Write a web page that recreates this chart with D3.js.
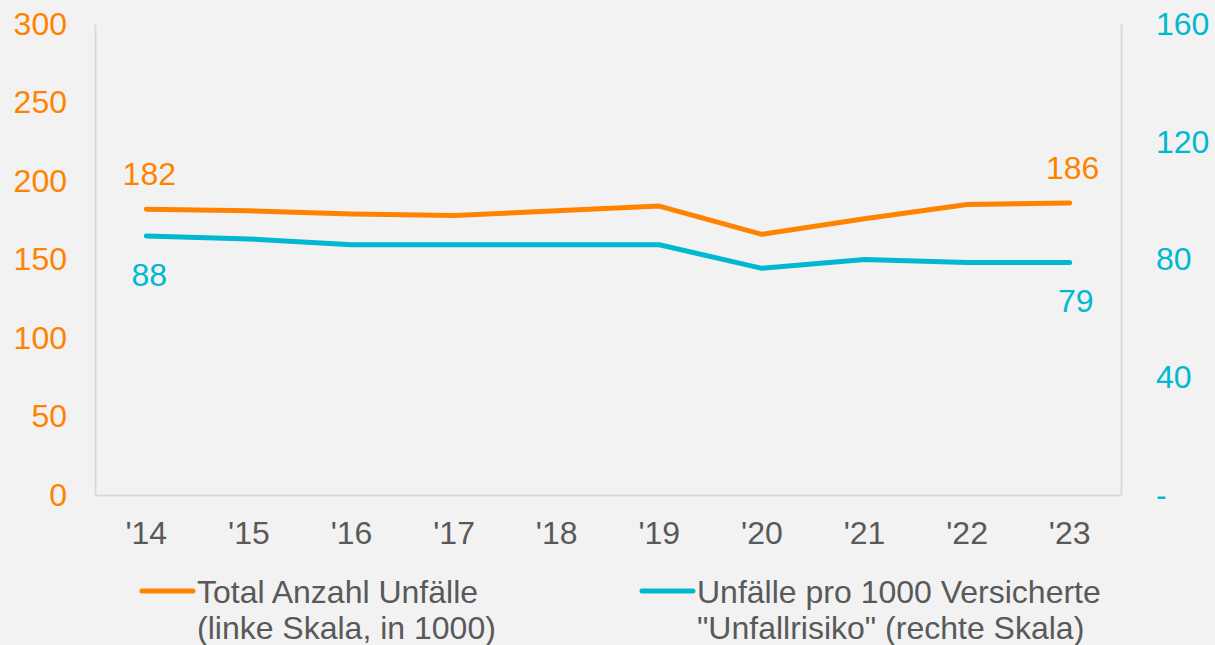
<!DOCTYPE html>
<html>
<head>
<meta charset="utf-8">
<script src="https://cdn.jsdelivr.net/npm/d3@7"></script>
<style>
  body { margin: 0; background: #f2f2f2; }
  svg { display: block; font-family: "Liberation Sans", Arial, sans-serif; }
</style>
</head>
<body>
<div id="chart"></div>
<script>
const years = ["'14", "'15", "'16", "'17", "'18", "'19", "'20", "'21", "'22", "'23"];
const totalAccidents = [182, 181, 179, 178, 181, 184, 166, 176, 185, 186];
const accidentRisk = [88, 87, 85, 85, 85, 85, 77, 80, 79, 79];
const leftTicks = [0, 50, 100, 150, 200, 250, 300];
const rightTicks = [0, 40, 80, 120, 160];
const legendLabels = [
    ["Total Anzahl Unfälle", "(linke Skala, in 1000)"],
    ["Unfälle pro 1000 Versicherte", "\"Unfallrisiko\" (rechte Skala)"]
];

const W = 1215, H = 645;
const margin = { top: 24, right: 94, bottom: 150, left: 95 };
const orange = "#ff8300", cyan = "#00b8cf", grey = "#595959", axisGrey = "#d9d9d9";

const svg = d3.select("#chart").append("svg")
    .attr("width", W)
    .attr("height", H);

svg.append("rect").attr("width", W).attr("height", H).attr("fill", "#f2f2f2");

// scales
const x = d3.scaleBand()
    .domain(years)
    .range([margin.left, W - margin.right]);

const yLeft = d3.scaleLinear()
    .domain([0, 300])
    .range([H - margin.bottom, margin.top]);

const yRight = d3.scaleLinear()
    .domain([0, 160])
    .range([H - margin.bottom, margin.top]);

const cx = d => x(d) + x.bandwidth() / 2;

// axes
const leftAxis = svg.append("g")
    .attr("transform", `translate(${margin.left},0)`)
    .call(d3.axisLeft(yLeft).tickValues(leftTicks).tickSize(0).tickPadding(28));

const rightAxis = svg.append("g")
    .attr("transform", `translate(${W - margin.right},0)`)
    .call(d3.axisRight(yRight).tickValues(rightTicks).tickSize(0).tickPadding(35)
        .tickFormat(d => d === 0 ? "-" : d));

const bottomAxis = svg.append("g")
    .attr("transform", `translate(0,${H - margin.bottom})`)
    .call(d3.axisBottom(x).tickSize(0).tickPadding(26));

[leftAxis, rightAxis, bottomAxis].forEach(g => {
    g.select(".domain").attr("stroke", axisGrey).attr("stroke-width", 2);
    g.selectAll("text").style("font-size", "32px").attr("font-family", null);
});
leftAxis.selectAll("text").attr("fill", orange);
rightAxis.selectAll("text").attr("fill", cyan);
bottomAxis.selectAll("text").attr("fill", grey);

// lines
const lineLeft = d3.line()
    .x((d, i) => cx(years[i]))
    .y(d => yLeft(d));

const lineRight = d3.line()
    .x((d, i) => cx(years[i]))
    .y(d => yRight(d));

svg.append("path")
    .datum(accidentRisk)
    .attr("d", lineRight)
    .attr("fill", "none")
    .attr("stroke", cyan)
    .attr("stroke-width", 5)
    .attr("stroke-linecap", "round")
    .attr("stroke-linejoin", "round");

svg.append("path")
    .datum(totalAccidents)
    .attr("d", lineLeft)
    .attr("fill", "none")
    .attr("stroke", orange)
    .attr("stroke-width", 5)
    .attr("stroke-linecap", "round")
    .attr("stroke-linejoin", "round");

// data labels at first and last point
const last = years.length - 1;
[0, last].forEach(i => {
    svg.append("text")
        .attr("x", cx(years[i]) + 3)
        .attr("y", yLeft(totalAccidents[i]) - 24)
        .attr("text-anchor", "middle")
        .attr("fill", orange)
        .style("font-size", "32px")
        .text(totalAccidents[i]);
    svg.append("text")
        .attr("x", cx(years[i]) + (i === 0 ? 3 : 6))
        .attr("y", yRight(accidentRisk[i]) + 50)
        .attr("text-anchor", "middle")
        .attr("fill", cyan)
        .style("font-size", "32px")
        .text(accidentRisk[i]);
});

// legend
const legendX = [140, 640];
const legendColors = [orange, cyan];
legendLabels.forEach((lines, i) => {
    const g = svg.append("g").attr("transform", `translate(${legendX[i]},0)`);
    g.append("line")
        .attr("x1", 2).attr("x2", 53)
        .attr("y1", 591).attr("y2", 591)
        .attr("stroke", legendColors[i])
        .attr("stroke-width", 5)
        .attr("stroke-linecap", "round");
    lines.forEach((t, j) => {
        g.append("text")
            .attr("x", 57)
            .attr("y", 603 + j * 35.5)
            .attr("fill", grey)
            .style("font-size", "32px")
            .text(t);
    });
});
</script>
</body>
</html>
